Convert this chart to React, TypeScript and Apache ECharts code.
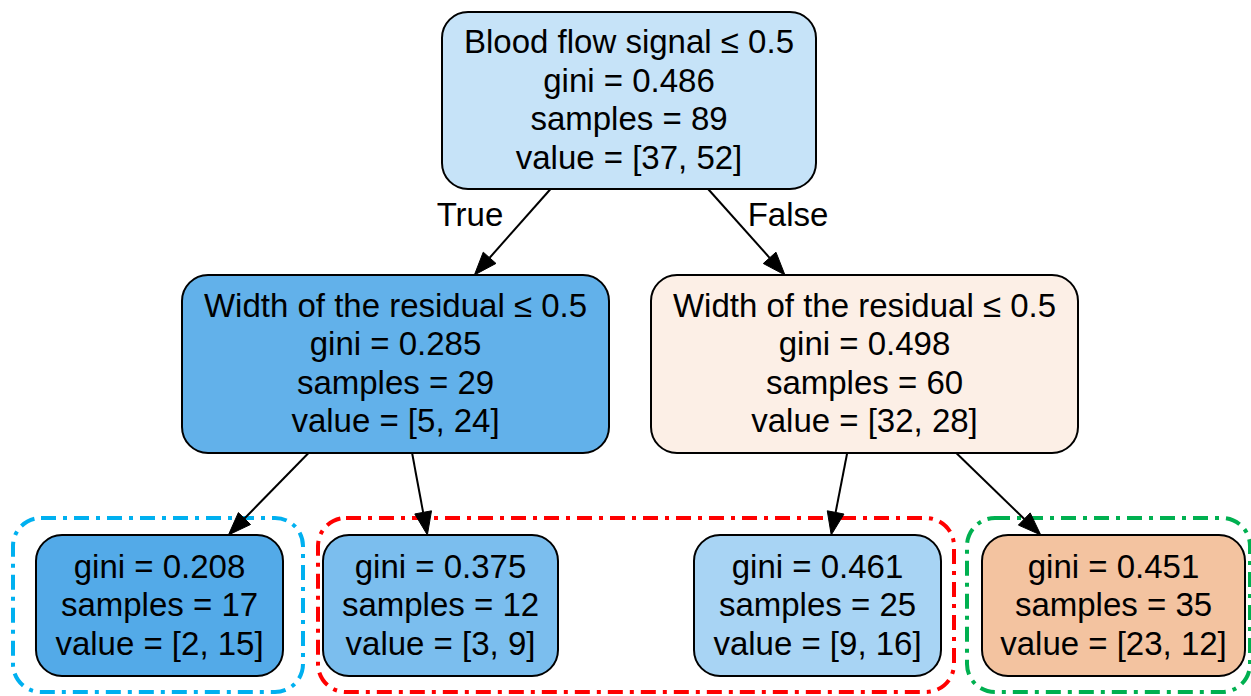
import React, { useEffect, useRef } from "react";
import * as echarts from "echarts";

// ---- Tree data ----
const splitRules: (string | null)[] = [
  "Blood flow signal ≤ 0.5",
  "Width of the residual ≤ 0.5",
  "Width of the residual ≤ 0.5",
  null,
  null,
  null,
  null,
];
const giniValues = [0.486, 0.285, 0.498, 0.208, 0.375, 0.461, 0.451];
const sampleCounts = [89, 29, 60, 17, 12, 25, 35];
const classValues = [
  [37, 52],
  [5, 24],
  [32, 28],
  [2, 15],
  [3, 9],
  [9, 16],
  [23, 12],
];
const parentOf = [-1, 0, 0, 1, 1, 2, 2];
const edgeLabelText: Record<number, string> = { 1: "True", 2: "False" };
const leafGroups = [
  { members: [3], color: "#00b0f0" },
  { members: [4, 5], color: "#ff0000" },
  { members: [6], color: "#00b050" },
];
const classColors = [
  [229, 129, 57],
  [57, 157, 229],
];

// ---- Layout (data-space coordinates of the drawing) ----
const nodeBoxes: number[][] = [
  [442, 12, 816, 189],
  [182, 275, 609, 453],
  [651, 275, 1078, 453],
  [36, 535, 283, 676],
  [323, 535, 558, 676],
  [694, 535, 941, 676],
  [982, 535, 1245, 676],
];
const groupBoxes: number[][] = [
  [13, 518, 303, 692],
  [318, 518, 954, 692],
  [967, 518, 1250, 692],
];
const edgeLabelPos: Record<number, number[]> = { 1: [470, 214], 2: [788, 214] };

const FONT = "Liberation Sans, Arial, Helvetica, sans-serif";
const FONT_SIZE = 33;
const LINE_H = 38.5;

function nodeColor(v: number[]): string {
  const total = v[0] + v[1];
  const f = v.map((x) => x / total);
  const maxIdx = f[0] >= f[1] ? 0 : 1;
  const second = f[1 - maxIdx];
  const alpha = (f[maxIdx] - second) / (1 - second);
  const c = classColors[maxIdx].map((ch) => Math.round(255 - alpha * (255 - ch)));
  return `rgb(${c[0]},${c[1]},${c[2]})`;
}

function nodeText(i: number): string {
  const lines: string[] = [];
  if (splitRules[i]) lines.push(splitRules[i] as string);
  lines.push(`gini = ${giniValues[i].toFixed(3)}`);
  lines.push(`samples = ${sampleCounts[i]}`);
  lines.push(`value = [${classValues[i][0]}, ${classValues[i][1]}]`);
  return lines.join("\n");
}

function center(b: number[]) {
  return [(b[0] + b[2]) / 2, (b[1] + b[3]) / 2];
}

export default function App() {
  const ref = useRef<HTMLDivElement>(null);
  useEffect(() => {
    if (!ref.current) return;
    const chart = echarts.init(ref.current, undefined, { renderer: "svg" });

    const nodeData = nodeBoxes.map((b, i) => {
      const c = center(b);
      return [c[0], c[1], i];
    });
    const edgeData = parentOf
      .map((p, i) => ({ p, i }))
      .filter((e) => e.p >= 0)
      .map((e) => {
        const c = center(nodeBoxes[e.i]);
        return [c[0], c[1], e.i];
      });
    const groupData = groupBoxes.map((b, i) => {
      const c = center(b);
      return [c[0], c[1], i];
    });

    chart.setOption({
      animation: false,
      backgroundColor: "#ffffff",
      grid: { left: 0, right: 0, top: 0, bottom: 0 },
      xAxis: { type: "value", min: 0, max: 1251, show: false },
      yAxis: { type: "value", min: 0, max: 696, inverse: true, show: false },
      series: [
        {
          type: "custom",
          name: "groups",
          coordinateSystem: "cartesian2d",
          clip: false,
          z: 1,
          encode: { x: 0, y: 1 },
          data: groupData,
          renderItem: (params: any, api: any) => {
            const gi = api.value(2);
            const b = groupBoxes[gi];
            const p0 = api.coord([b[0], b[1]]);
            const p1 = api.coord([b[2], b[3]]);
            return {
              type: "rect",
              shape: { x: p0[0], y: p0[1], width: p1[0] - p0[0], height: p1[1] - p0[1], r: 28 },
              style: {
                fill: "none",
                stroke: leafGroups[gi].color,
                lineWidth: 4,
                lineDash: [15, 7, 4, 7],
              },
            };
          },
        },
        {
          type: "custom",
          name: "edges",
          coordinateSystem: "cartesian2d",
          clip: false,
          z: 2,
          encode: { x: 0, y: 1 },
          data: edgeData,
          renderItem: (params: any, api: any) => {
            const i = api.value(2);
            const p = parentOf[i];
            const pb = nodeBoxes[p];
            const cb = nodeBoxes[i];
            const pc = center(pb);
            const cc = center(cb);
            const ts = (pb[3] - pc[1]) / (cc[1] - pc[1]);
            const te = (cb[1] - pc[1]) / (cc[1] - pc[1]);
            const s = api.coord([pc[0] + ts * (cc[0] - pc[0]), pb[3]]);
            const e = api.coord([pc[0] + te * (cc[0] - pc[0]), cb[1]]);
            const dx = e[0] - s[0];
            const dy = e[1] - s[1];
            const len = Math.sqrt(dx * dx + dy * dy);
            const ux = dx / len;
            const uy = dy / len;
            const AL = 23;
            const AW = 8.5;
            const bx = e[0] - ux * AL;
            const by = e[1] - uy * AL;
            const children: any[] = [
              {
                type: "line",
                shape: { x1: s[0], y1: s[1], x2: bx, y2: by },
                style: { stroke: "#000", lineWidth: 2 },
              },
              {
                type: "polygon",
                shape: {
                  points: [
                    [e[0], e[1]],
                    [bx - uy * AW, by + ux * AW],
                    [bx + uy * AW, by - ux * AW],
                  ],
                },
                style: { fill: "#000", stroke: "#000", lineWidth: 1 },
              },
            ];
            if (edgeLabelText[i]) {
              const lp = api.coord(edgeLabelPos[i]);
              children.push({
                type: "text",
                style: {
                  text: edgeLabelText[i],
                  x: lp[0],
                  y: lp[1],
                  align: "center",
                  verticalAlign: "middle",
                  fontFamily: FONT,
                  fontSize: FONT_SIZE,
                  fill: "#000",
                },
              });
            }
            return { type: "group", children };
          },
        },
        {
          type: "custom",
          name: "nodes",
          coordinateSystem: "cartesian2d",
          clip: false,
          z: 3,
          encode: { x: 0, y: 1 },
          data: nodeData,
          renderItem: (params: any, api: any) => {
            const i = api.value(2);
            const b = nodeBoxes[i];
            const p0 = api.coord([b[0], b[1]]);
            const p1 = api.coord([b[2], b[3]]);
            const c = api.coord([api.value(0), api.value(1)]);
            return {
              type: "group",
              children: [
                {
                  type: "rect",
                  shape: { x: p0[0], y: p0[1], width: p1[0] - p0[0], height: p1[1] - p0[1], r: 26 },
                  style: { fill: nodeColor(classValues[i]), stroke: "#000", lineWidth: 2 },
                },
                {
                  type: "text",
                  style: {
                    text: nodeText(i),
                    x: c[0],
                    y: c[1] - 1,
                    align: "center",
                    verticalAlign: "middle",
                    fontFamily: FONT,
                    fontSize: FONT_SIZE,
                    lineHeight: LINE_H,
                    fill: "#000",
                  },
                },
              ],
            };
          },
        },
      ],
    });
    return () => chart.dispose();
  }, []);

  return (
    <div
      ref={ref}
      style={{ position: "fixed", left: 0, top: 0, width: 1251, height: 696, background: "#fff" }}
    />
  );
}
